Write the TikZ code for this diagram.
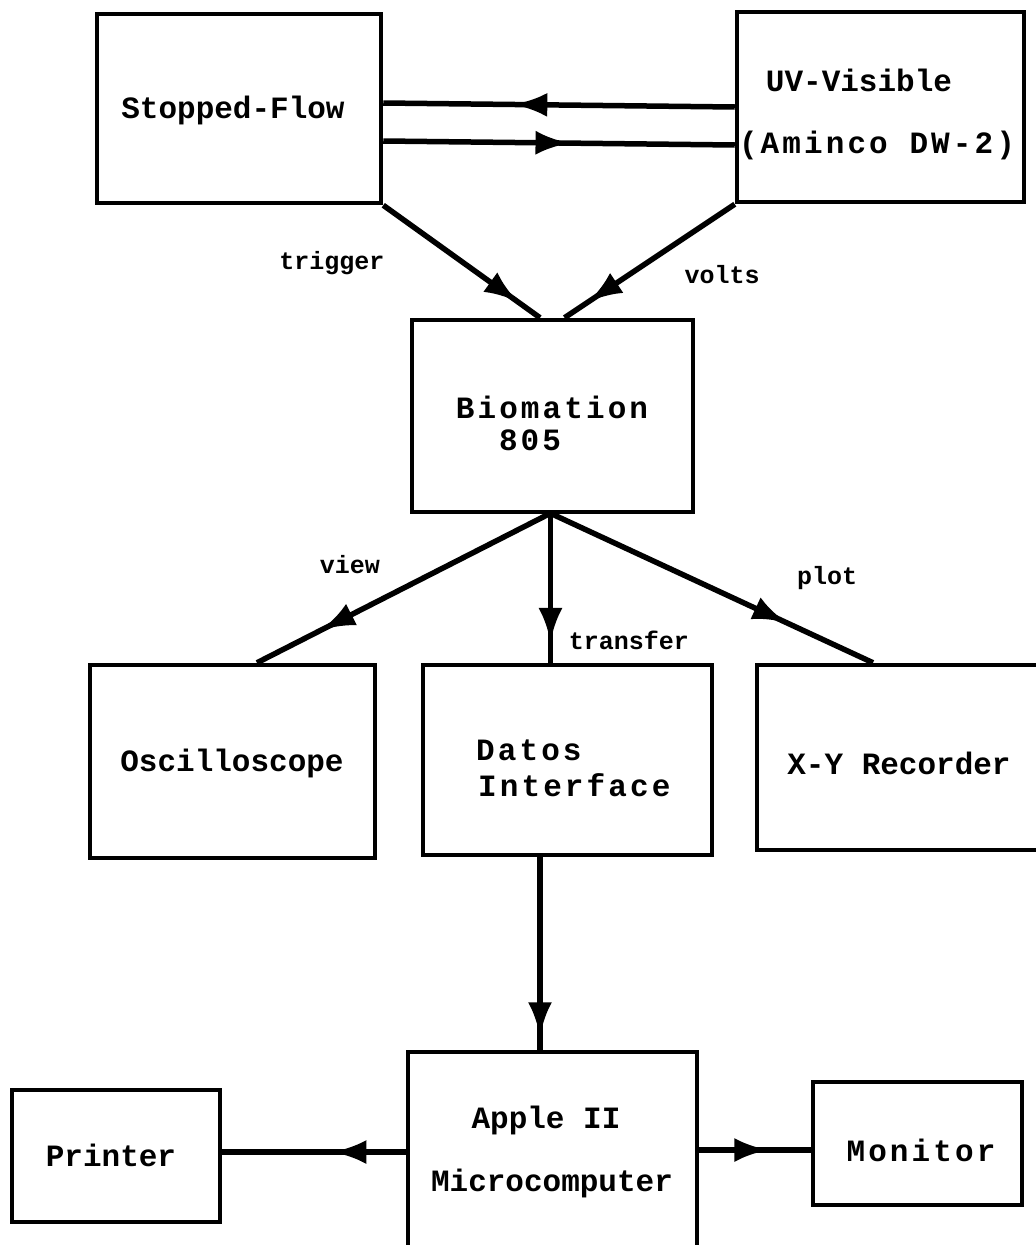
\documentclass[tikz,border=0pt]{standalone}
\usepackage{fontspec}
\newfontfamily\tw{Liberation Mono}
\newfontfamily\twsp{Liberation Mono}[LetterSpace=10]
\usetikzlibrary{arrows.meta,decorations.markings}
\tikzset{
  box/.style={draw, line width=4.5pt, rectangle, inner sep=0pt},
  conn/.style={line width=5.5pt},
  midarrow/.style={postaction={decorate},
    decoration={markings, mark=at position #1 with {\arrow{Latex[length=34pt,width=24pt]}}}},
  txt/.style={font=\tw\bfseries\fontsize{31}{36}\selectfont, inner sep=0pt},
  txtsp/.style={font=\twsp\bfseries\fontsize{31}{36}\selectfont, inner sep=0pt},
  lbl/.style={font=\tw\bfseries\fontsize{25}{30}\selectfont, inner sep=0pt},
}
\begin{document}
\begin{tikzpicture}[x=1pt,y=-1pt]
\clip (0,0) rectangle (1036,1245);
\fill[white] (0,0) rectangle (1036,1245);
% boxes
\node[box, minimum width=284pt, minimum height=189pt] (sf) at (239,108.5) {};
\node[box, minimum width=287pt, minimum height=190pt] (uv) at (880.5,107) {};
\node[box, minimum width=281pt, minimum height=192pt] (bio) at (552.5,416) {};
\node[box, minimum width=285pt, minimum height=193pt] (osc) at (232.5,761.5) {};
\node[box, minimum width=289pt, minimum height=190pt] (dat) at (567.5,760) {};
\node[box, minimum width=288pt, minimum height=185pt] (xy) at (901,757.5) {};
\node[box, minimum width=208pt, minimum height=132pt] (pr) at (116,1156) {};
\node[box, minimum width=289pt, minimum height=213pt] (ap) at (552.5,1158.5) {};
\node[box, minimum width=209pt, minimum height=123pt] (mon) at (917.5,1143.5) {};
% texts
\node[txt] (tsf) at (233,110) {Stopped-Flow};
\node[txt] (tuv1) at (859,80) {UV-Visible};
\node[txtsp] (tuv2) at (877,145) {(Aminco DW-2)};
\node[txtsp] (tbio1) at (552,407) {Biomation};
\node[txtsp] (tbio2) at (530,440) {805};
\node[txt] (tosc) at (232,763) {Oscilloscope};
\node[txtsp, anchor=west] (tdat1) at (476,750) {Datos};
\node[txtsp, anchor=west] (tdat2) at (478,785) {Interface};
\node[txt] (txy) at (899,763) {X-Y Recorder};
\node[txt] (tpr) at (111,1155) {Printer};
\node[txt] (tap1) at (546,1120) {Apple II};
\node[txt] (tap2) at (552,1183) {Microcomputer};
\node[txtsp] (tmon) at (921,1150) {Monitor};
% connectors
\draw[conn, midarrow=0.63] (uv.west) -- ([yshift=5.5pt]sf.east);
\draw[conn, midarrow=0.53] ([yshift=-32.5pt]sf.east) -- ([yshift=-38pt]uv.west);
\draw[conn, midarrow=0.86] (sf.south east) -- ([xshift=-12.5pt]bio.north);
\node[lbl] (ltrig) at (332,263) {trigger};
\draw[conn, midarrow=0.86] (uv.south west) -- ([xshift=12pt]bio.north);
\node[lbl] (lvolts) at (722,275) {volts};
\draw[conn, midarrow=0.78] ([xshift=-4pt]bio.south) -- ([xshift=24.5pt]osc.north);
\node[lbl] (lview) at (350,565) {view};
\draw[conn, midarrow=0.86] ([xshift=-2pt]bio.south) -- ([xshift=-2pt]bio.south |- dat.north);
\node[lbl] (ltrans) at (629,640) {transfer};
\draw[conn, midarrow=0.73] (bio.south) -- ([xshift=-28pt]xy.north);
\node[lbl] (lplot) at (827,578) {plot};
\draw[conn, midarrow=0.93] ([xshift=-27.5pt]dat.south) -- ([xshift=-27.5pt]dat.south |- ap.north);
\draw[conn, midarrow=0.40] ([yshift=6.5pt]ap.west) -- ([yshift=6.5pt]ap.west -| pr.east);
\draw[conn, midarrow=0.62] ([yshift=8.5pt]ap.east) -- ([yshift=8.5pt]ap.east -| mon.west);
\end{tikzpicture}
\end{document}
